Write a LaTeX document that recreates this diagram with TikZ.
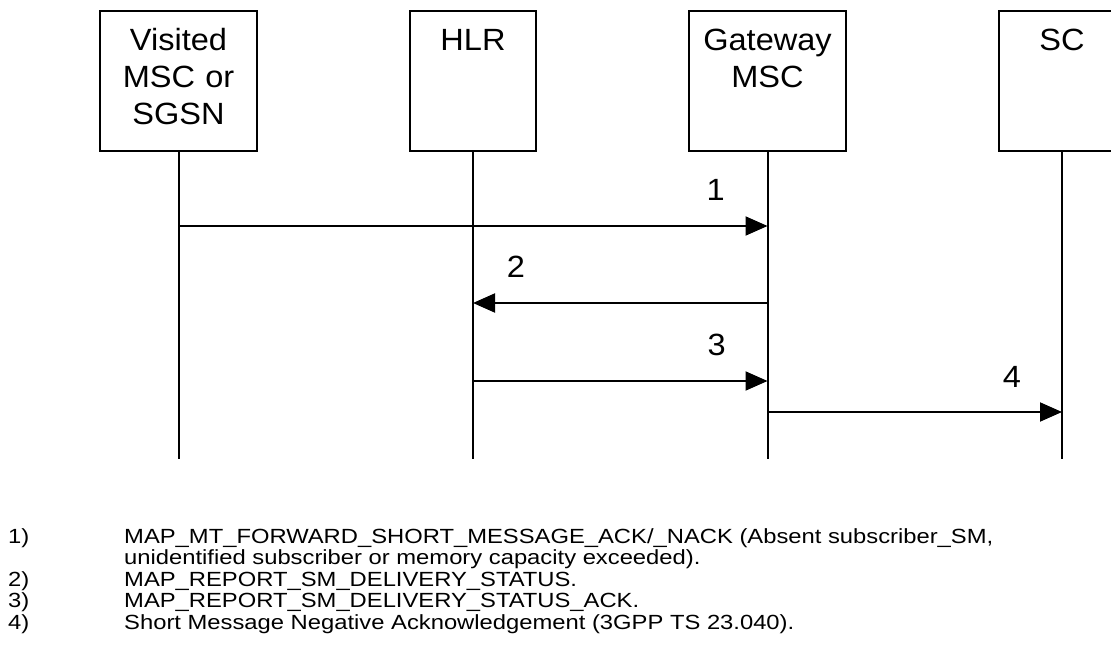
\documentclass[tikz,border=0pt]{standalone}
\usepackage{fontspec}
\setmainfont{Liberation Sans}[FakeStretch=1.06]
\newfontfamily\notefont{Liberation Sans}[FakeStretch=1.16]
\usetikzlibrary{positioning,arrows.meta}

\begin{document}
\begin{tikzpicture}[
  x=1pt, y=-1pt,
  node distance=294.5pt,
  ent/.style={draw, line width=2pt, inner sep=0pt, align=center, text height=40pt, text depth=100pt, font=\fontsize{30.7}{37}\selectfont},
  life/.style={line width=2pt},
  msg/.style={line width=2pt, -{Triangle[length=22pt, width=19pt]}},
  num/.style={above=24pt, inner sep=0pt, font=\fontsize{30.7}{37}\selectfont},
  note/.style={anchor=base west, inner sep=0pt, font=\notefont\fontsize{20.5}{21.5}\selectfont}
]
  \useasboundingbox (0,0) rectangle (1111,652);
  \clip (0,0) rectangle (1111,652);

  % entities
  \node[ent, text width=157pt, anchor=north] (vmsc) at (178.5,10) {Visited\\MSC or\\SGSN};
  \node[ent, text width=126pt, right of=vmsc] (hlr) {HLR};
  \node[ent, text width=157pt, right of=hlr] (gmsc) {Gateway\\MSC};
  \node[ent, text width=126pt, right of=gmsc] (sc) {SC};

  % lifelines
  \coordinate (bot) at (0,459);
  \foreach \n in {vmsc,hlr,gmsc,sc}
    \draw[life] (\n) -- (\n |- bot);

  % messages
  \coordinate (r1) at (0,226);
  \coordinate (r2) at (0,303);
  \coordinate (r3) at (0,381);
  \coordinate (r4) at (0,412);
  \draw[msg] (vmsc |- r1) -- node[num, pos=0.912] (l1) {1} (gmsc |- r1);
  \draw[msg] (gmsc |- r2) -- node[num, pos=0.854] (l2) {2} (hlr |- r2);
  \draw[msg] (hlr |- r3) -- node[num, pos=0.827] (l3) {3} (gmsc |- r3);
  \draw[msg] (gmsc |- r4) -- node[num, pos=0.83] (l4) {4} (sc |- r4);

  % notes
  \node[note] (n1) at (8,543) {1)};
  \node[note] (t1) at (124,543) {MAP\_MT\_FORWARD\_SHORT\_MESSAGE\_ACK/\_NACK (Absent subscriber\_SM,};
  \node[note] (t1b) at (124,564.5) {unidentified subscriber or memory capacity exceeded).};
  \node[note] (n2) at (8,586) {2)};
  \node[note] (t2) at (124,586) {MAP\_REPORT\_SM\_DELIVERY\_STATUS.};
  \node[note] (n3) at (8,607.5) {3)};
  \node[note] (t3) at (124,607.5) {MAP\_REPORT\_SM\_DELIVERY\_STATUS\_ACK.};
  \node[note] (n4) at (8,629) {4)};
  \node[note] (t4) at (124,629) {Short Message Negative Acknowledgement (3GPP TS 23.040).};
\end{tikzpicture}
\end{document}
